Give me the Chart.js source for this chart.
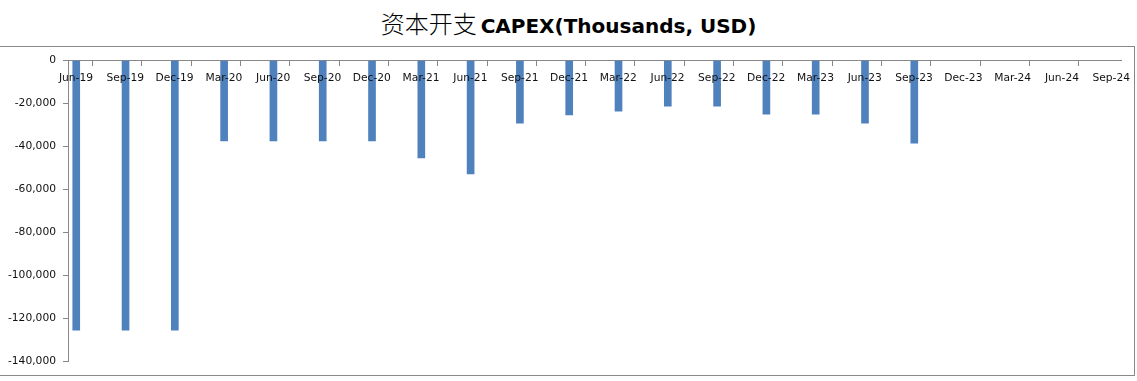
<!DOCTYPE html>
<html>
<head>
<meta charset="utf-8">
<script src="https://cdn.jsdelivr.net/npm/chart.js@4"></script>
<style>
  html, body { margin: 0; padding: 0; background: #fff; width: 1137px; height: 381px; overflow: hidden; }
  #title { position: absolute; left: 0; top: 8px; width: 1137px; text-align: center; white-space: nowrap; line-height: 30px; color: #000; }
  #title .zh { font-family: "Noto Sans CJK SC"; font-weight: 300; font-size: 24px; }
  #title .en { font-family: "DejaVu Sans"; font-weight: bold; font-size: 20px; }
  #frame { position: absolute; left: -1px; top: 46px; width: 1136px; height: 330px; box-sizing: border-box; border: 1px solid #888; }
  canvas { display: block; }
</style>
</head>
<body>
<div id="title"><span class="zh">资本开支</span> <span class="en">CAPEX(Thousands, USD)</span></div>
<div id="frame"><canvas id="c" width="1134" height="328"></canvas></div>
<script>
// Quarter-end labels along the date axis
const categories = ['Jun-19','Sep-19','Dec-19','Mar-20','Jun-20','Sep-20','Dec-20','Mar-21','Jun-21','Sep-21','Dec-21',
                    'Mar-22','Jun-22','Sep-22','Dec-22','Mar-23','Jun-23','Sep-23','Dec-23','Mar-24','Jun-24','Sep-24'];

// Capital expenditure per quarter, thousands of USD (no figures reported yet for the last four quarters)
const capex = [-125600, -125600, -125600, -37500, -37500, -37500, -37500, -45400, -52900, -29200, -25400,
               -23600, -21300, -21300, -25000, -25000, -29200, -38500, null, null, null, null];

// Value axis range and step
const yMin = -140000;
const yMax = 0;
const yStep = 20000;

const AXIS_GREY = '#888888';
const BAR_BLUE = '#4F81BD';
const TICK_FONT = { family: 'DejaVu Sans', size: 10.7 };

// bars sit a little after each quarter's tick mark on the date axis
const BAR_SHIFT = 0.167;
const points = capex
  .map((v, i) => (v === null ? null : { x: i + BAR_SHIFT, y: v }))
  .filter(p => p !== null);

new Chart(document.getElementById('c'), {
  type: 'bar',
  data: {
    datasets: [{
      label: 'CAPEX',
      data: points,
      backgroundColor: BAR_BLUE,
      borderWidth: 0,
      barThickness: 7
    }]
  },
  options: {
    responsive: false,
    animation: false,
    layout: { padding: { top: 13, right: 13, bottom: 14, left: 0 } },
    plugins: { legend: { display: false }, tooltip: { enabled: false }, title: { display: false } },
    scales: {
      x: {
        type: 'linear',
        position: { y: 0 },
        min: 0,
        max: categories.length - 1 + 0.36,
        offset: false,
        afterBuildTicks: (scale) => { scale.ticks = categories.map((_, i) => ({ value: i })); },
        ticks: {
          z: 1,
          autoSkip: false,
          maxRotation: 0,
          minRotation: 0,
          labelOffset: 8,
          padding: 6,
          color: '#111',
          font: TICK_FONT,
          callback: (v) => categories[v] ?? ''
        },
        grid: { drawOnChartArea: false, drawTicks: true, tickLength: 5, color: AXIS_GREY },
        border: { display: true, color: AXIS_GREY, width: 1 }
      },
      y: {
        type: 'linear',
        min: yMin,
        max: yMax,
        afterFit: (scale) => { scale.width = 68; },
        ticks: {
          stepSize: yStep,
          padding: 7,
          color: '#111',
          font: TICK_FONT,
          callback: (v) => v.toLocaleString('en-US')
        },
        grid: { drawOnChartArea: false, drawTicks: true, tickLength: 5, color: AXIS_GREY },
        border: { display: true, color: AXIS_GREY, width: 1 }
      }
    }
  }
});
</script>
</body>
</html>
